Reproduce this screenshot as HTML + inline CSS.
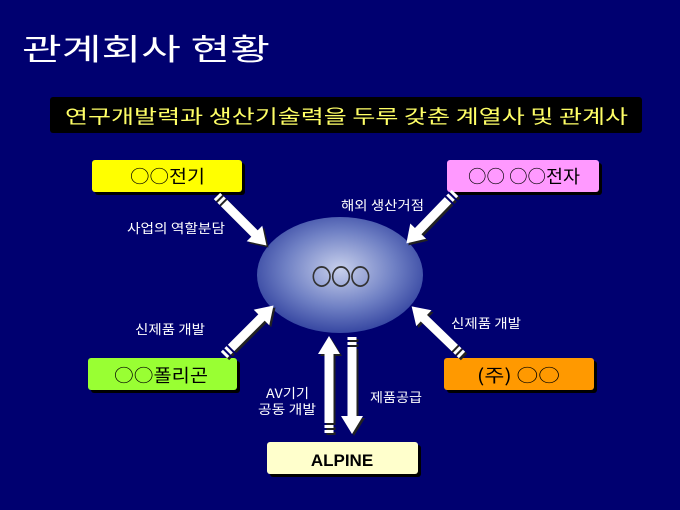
<!DOCTYPE html>
<html><head><meta charset="utf-8"><style>
html,body{margin:0;padding:0;background:#000070;}
svg{display:block;}
text{font-family:"Noto Sans CJK KR","NanumGothic",sans-serif;}
.lat{font-family:"Liberation Sans",sans-serif;}
</style></head><body>
<svg width="680" height="510" viewBox="0 0 680 510" xmlns="http://www.w3.org/2000/svg">
<defs>
<radialGradient id="eg" cx="0.5" cy="0.45" r="0.6">
<stop offset="0" stop-color="#c8d0ec"/>
<stop offset="0.55" stop-color="#6f80c4"/>
<stop offset="1" stop-color="#2a3a9a"/>
</radialGradient>
<g id="arw">
<rect x="0" y="-4.5" width="3" height="9"/>
<rect x="5" y="-4.5" width="3" height="9"/>
<rect x="10" y="-4.5" width="44" height="9"/>
<polygon points="53,-11 70,0 53,11"/>
</g>
<g id="arwv">
<rect x="0" y="-4.5" width="3" height="9"/>
<rect x="5" y="-4.5" width="3" height="9"/>
<rect x="10" y="-4.5" width="70" height="9"/>
<polygon points="79,-11 97,0 79,11"/>
</g>
</defs>
<rect width="680" height="510" fill="#000070"/>
<text x="22" y="60" font-size="30" fill="#ffffff" textLength="248" lengthAdjust="spacingAndGlyphs">관계회사  현황</text>
<rect x="50" y="97" width="592" height="36" fill="#000" rx="3"/>
<text x="65" y="123" font-size="19" fill="#ffff66" textLength="563" lengthAdjust="spacingAndGlyphs">연구개발력과 생산기술력을 두루 갖춘 계열사 및 관계사</text>

<ellipse cx="340" cy="275" rx="83" ry="58" fill="url(#eg)"/>
<text x="341" y="285" font-size="22" fill="#fff" stroke="#333" stroke-width="1" text-anchor="middle" textLength="58" lengthAdjust="spacingAndGlyphs">○○○</text>

<rect x="95" y="163" width="150" height="32" rx="3" fill="#000"/>
<rect x="92" y="160" width="150" height="32" rx="3" fill="#ffff00"/>
<text x="130" y="183" font-size="18" fill="#000" textLength="75" lengthAdjust="spacingAndGlyphs">○○전기</text>

<rect x="450" y="163" width="152" height="32" rx="3" fill="#000"/>
<rect x="447" y="160" width="152" height="32" rx="3" fill="#ff99ff"/>
<text x="468" y="183" font-size="18" fill="#000" textLength="112" lengthAdjust="spacingAndGlyphs">○○ ○○전자</text>

<rect x="91" y="361" width="149" height="32" rx="3" fill="#000"/>
<rect x="88" y="358" width="149" height="32" rx="3" fill="#99ff33"/>
<text x="114" y="382" font-size="18" fill="#000" textLength="94" lengthAdjust="spacingAndGlyphs">○○폴리곤</text>

<rect x="447" y="361" width="150" height="32" rx="3" fill="#000"/>
<rect x="444" y="358" width="150" height="32" rx="3" fill="#ff9900"/>
<text x="477" y="382" font-size="18" fill="#000" textLength="83" lengthAdjust="spacingAndGlyphs">(주) ○○</text>

<rect x="270" y="445" width="151" height="32" rx="3" fill="#000"/>
<rect x="267" y="442" width="151" height="32" rx="3" fill="#ffffcc"/>
<text x="342" y="466" font-size="17" font-weight="bold" fill="#000" text-anchor="middle" class="lat">ALPINE</text>

<g fill="#222">
<use href="#arw" transform="translate(219,198) rotate(45)"/>
<use href="#arw" transform="translate(457,195) rotate(134)"/>
<use href="#arw" transform="translate(226,357) rotate(-45)"/>
<use href="#arw" transform="translate(464,357) rotate(-136)"/>
<use href="#arwv" transform="translate(331,435) rotate(-90)"/>
<use href="#arwv" transform="translate(354,339) rotate(90)"/>
</g>
<g fill="#fff">
<use href="#arw" transform="translate(217,196) rotate(45)"/>
<use href="#arw" transform="translate(455,193) rotate(134)"/>
<use href="#arw" transform="translate(224,355) rotate(-45)"/>
<use href="#arw" transform="translate(462,355) rotate(-136)"/>
<use href="#arwv" transform="translate(329,433) rotate(-90)"/>
<use href="#arwv" transform="translate(352,337) rotate(90)"/>
</g>

<g font-size="13" fill="#fff">
<text x="127" y="233" textLength="98" lengthAdjust="spacingAndGlyphs">사업의 역할분담</text>
<text x="341" y="210" textLength="83" lengthAdjust="spacingAndGlyphs">해외 생산거점</text>
<text x="135" y="334" textLength="70" lengthAdjust="spacingAndGlyphs">신제품 개발</text>
<text x="451" y="328" textLength="70" lengthAdjust="spacingAndGlyphs">신제품 개발</text>
<text x="266" y="398" textLength="43" lengthAdjust="spacingAndGlyphs">AV기기</text>
<text x="258" y="414" textLength="58" lengthAdjust="spacingAndGlyphs">공동 개발</text>
<text x="370" y="402" textLength="52" lengthAdjust="spacingAndGlyphs">제품공급</text>
</g>
</svg>
</body></html>
